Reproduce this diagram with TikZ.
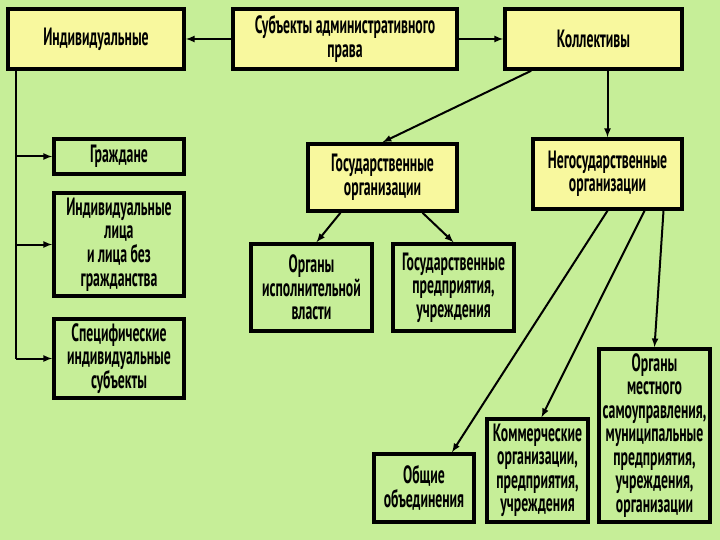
\documentclass[tikz,border=0pt]{standalone}
\usepackage{fontspec}
\setmainfont{PT Sans}[FakeStretch=0.55]
\definecolor{bggreen}{RGB}{198,238,152}
\definecolor{boxyellow}{RGB}{248,248,158}
\tikzset{
  box/.style={draw=black, line width=3.5pt, fill=bggreen, align=center,
    inner sep=0pt, font=\fontsize{25}{23.5}\selectfont\bfseries},
  topbox/.style={box, fill=boxyellow},
  link/.style={line width=2pt, ->, >=latex}
}

\begin{document}
\begin{tikzpicture}[x=1pt, y=-1pt]
    % background
    \fill[bggreen] (0,0) rectangle (720,540);
    \useasboundingbox (0,0) rectangle (720,540);

    % top row
    \node[topbox, minimum width=176pt, minimum height=60pt] (ind) at (96,39) {Индивидуальные};
    \node[topbox, minimum width=224pt, minimum height=60pt] (subj) at (345,39) {Субъекты административного\\права};
    \node[topbox, minimum width=177pt, minimum height=60pt] (koll) at (593.5,39) {Коллективы};

    % individuals
    \node[box, minimum width=130pt, minimum height=35pt] (grazh) at (119,156.5) {Граждане};
    \node[box, minimum width=130pt, minimum height=103pt] (lica) at (119,244.5) {Индивидуальные\\лица\\и лица без\\гражданства};
    \node[box, minimum width=130pt, minimum height=79pt] (spec) at (119,358.5) {Специфические\\индивидуальные\\субъекты};

    % state organisations
    \node[topbox, minimum width=149pt, minimum height=67pt] (gosorg) at (382.5,177.5) {Государственные\\организации};
    \node[box, minimum width=121pt, minimum height=87pt] (ispoln) at (311.5,287.5) {Органы\\исполнительной\\власти};
    \node[box, minimum width=121pt, minimum height=87pt] (gospred) at (453.5,287.5) {Государственные\\предприятия,\\учреждения};

    % non-state organisations
    \node[topbox, minimum width=149pt, minimum height=70pt] (negos) at (607.5,174) {Негосударственные\\организации};
    \node[box, minimum width=100pt, minimum height=68pt] (obsch) at (424,488) {Общие\\объединения};
    \node[box, minimum width=101pt, minimum height=103pt] (kommer) at (537.5,470.5) {Коммерческие\\организации,\\предприятия,\\учреждения};
    \node[box, minimum width=111pt, minimum height=173pt] (mestn) at (654.5,435.5) {Органы\\местного\\самоуправления,\\муниципальные\\предприятия,\\учреждения,\\организации};

    % connectors
    \draw[link] (subj.west) -- (ind.east);
    \draw[link] (subj.east) -- (koll.east -| koll.west);
    \draw[link] (negos.north |- koll.south) -- (negos.north);
    \draw[link] ([xshift=28pt]koll.south west) -- (gosorg.north);

    \coordinate (trunk) at ([xshift=10pt]ind.south west);
    \draw[line width=2pt] (trunk) -- (trunk |- spec.west);
    \draw[link] (trunk |- grazh.west) -- (grazh.west);
    \draw[link] (trunk |- lica.west) -- (lica.west);
    \draw[link] (trunk |- spec.west) -- (spec.west);

    \draw[link] ([xshift=-42pt]gosorg.south) -- ([xshift=5pt]ispoln.north);
    \draw[link] ([xshift=40pt]gosorg.south) -- (gospred.north);

    \draw[link] (negos.south) -- ([xshift=28pt]obsch.north);
    \draw[link] ([xshift=37pt]negos.south) -- ([xshift=4pt]kommer.north);
    \draw[link] ([xshift=56pt]negos.south) -- (mestn.north);
\end{tikzpicture}
\end{document}
